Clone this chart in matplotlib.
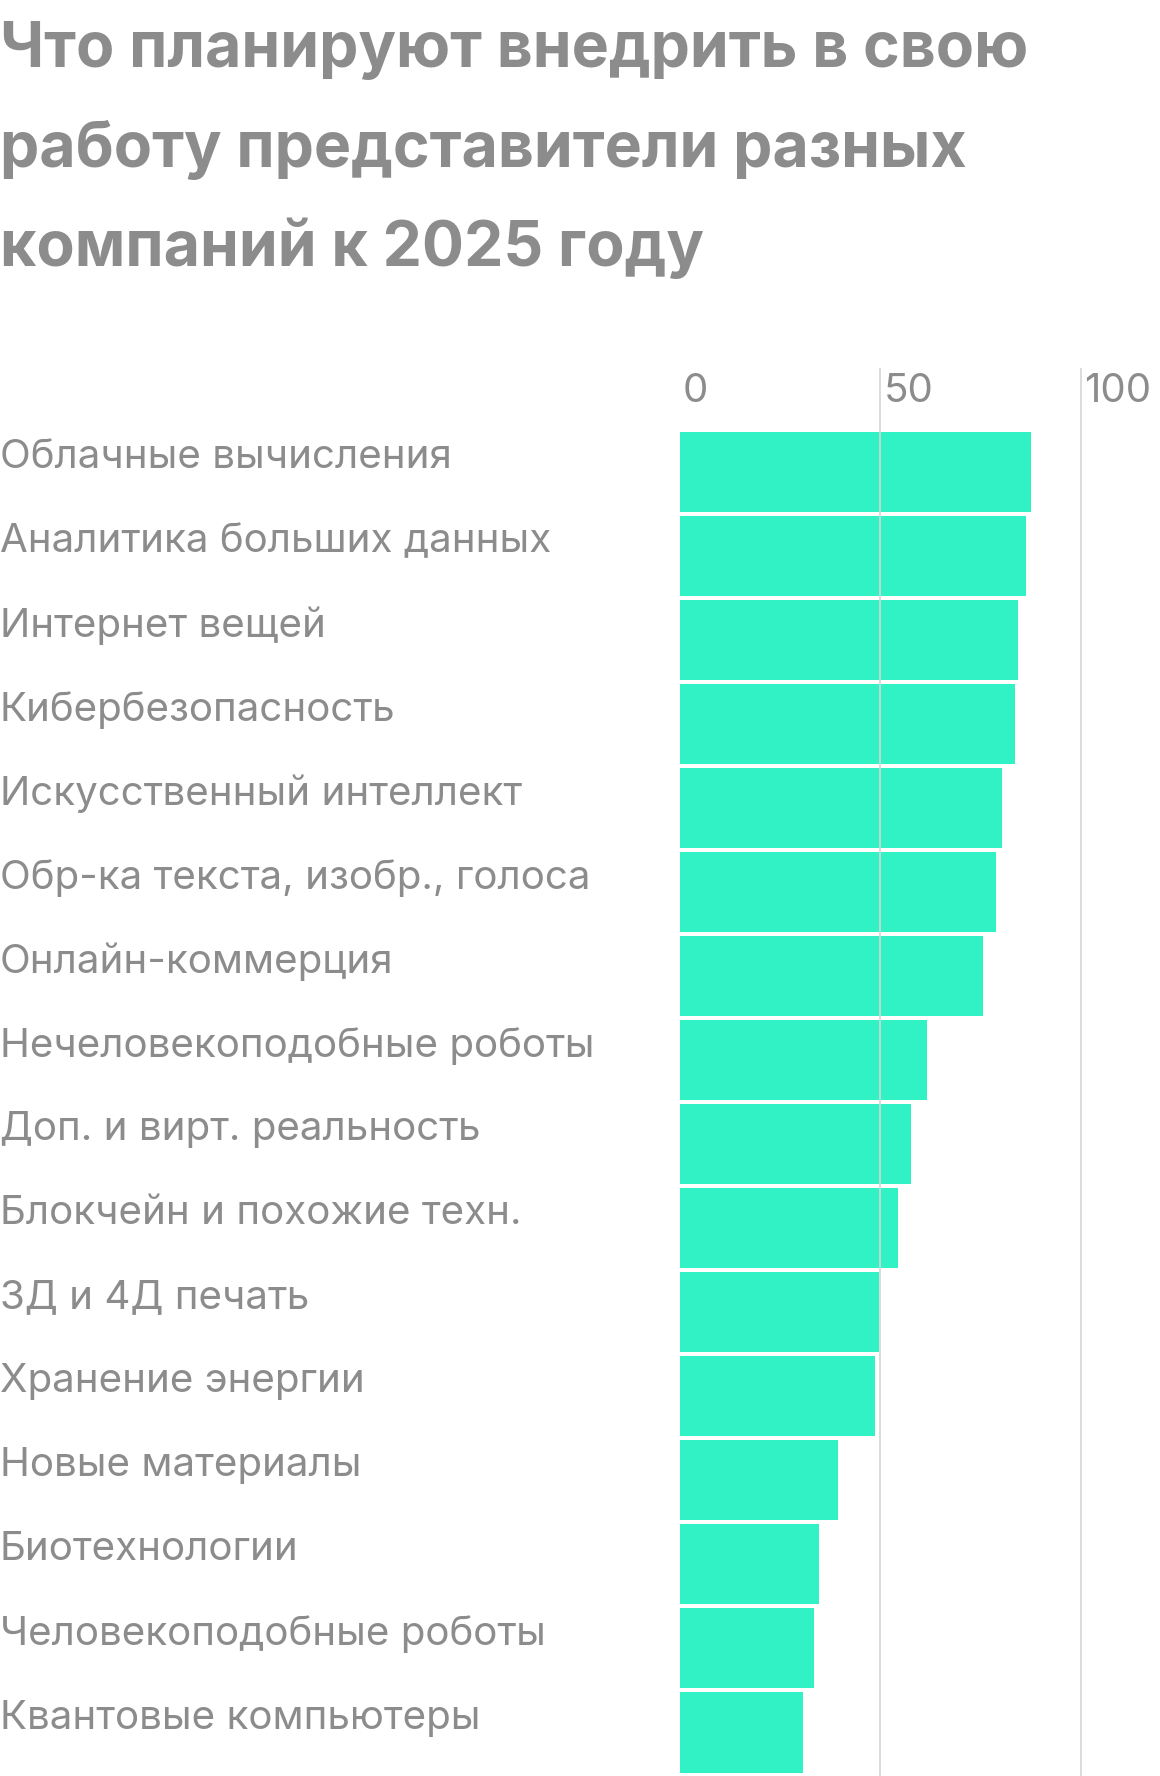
import matplotlib
matplotlib.use("Agg")
import matplotlib.pyplot as plt

categories = [
    "Облачные вычисления", "Аналитика больших данных", "Интернет вещей",
    "Кибербезопасность", "Искусственный интеллект", "Обр-ка текста, изобр., голоса",
    "Онлайн-коммерция", "Нечеловекоподобные роботы", "Доп. и вирт. реальность",
    "Блокчейн и похожие техн.", "3Д и 4Д печать", "Хранение энергии",
    "Новые материалы", "Биотехнологии", "Человекоподобные роботы",
    "Квантовые компьютеры",
]
values = [87.6, 86.4, 84.5, 83.6, 80.5, 78.8, 75.7, 61.6, 57.6, 54.5,
          49.7, 48.6, 39.5, 34.7, 33.6, 30.8]
ticks = [0, 50, 100]

gray = "#8c8c8c"
fig = plt.figure(figsize=(11.6, 17.76), dpi=100)
ax = fig.add_axes([0.586, 0.0, 0.414, 1 - 325 / 1568])

y = list(range(len(categories)))
ax.barh(y, values, height=0.957, color="#30F2C4", zorder=1)
for t in ticks[1:]:
    ax.axvline(t, color="#d5d5d5", lw=1.2, zorder=2)
ax.set_xlim(0, 119.8)
ax.set_ylim(15.52, -1.233)
ax.axis("off")

for t in ticks:
    ax.text(t + 0.8, -0.95, str(t), fontsize=29, color=gray, ha="left",
            va="center", family="Inter")
for i, c in enumerate(categories):
    ax.text(-0.586 / 0.414 * 119.8, i - 0.17, c, fontsize=29, color=gray, ha="left",
            va="center", family="Inter", clip_on=False)

title = ["Что планируют внедрить в свою", "работу представители разных",
         "компаний к 2025 году"]
for k, line in enumerate(title):
    fig.text(0.0, 1 - (45 + 87 * k) / 1568, line, fontsize=45, fontweight="bold",
             color=gray, ha="left", va="center", family="Inter")

fig.savefig("out.png", dpi=100, facecolor="white")
